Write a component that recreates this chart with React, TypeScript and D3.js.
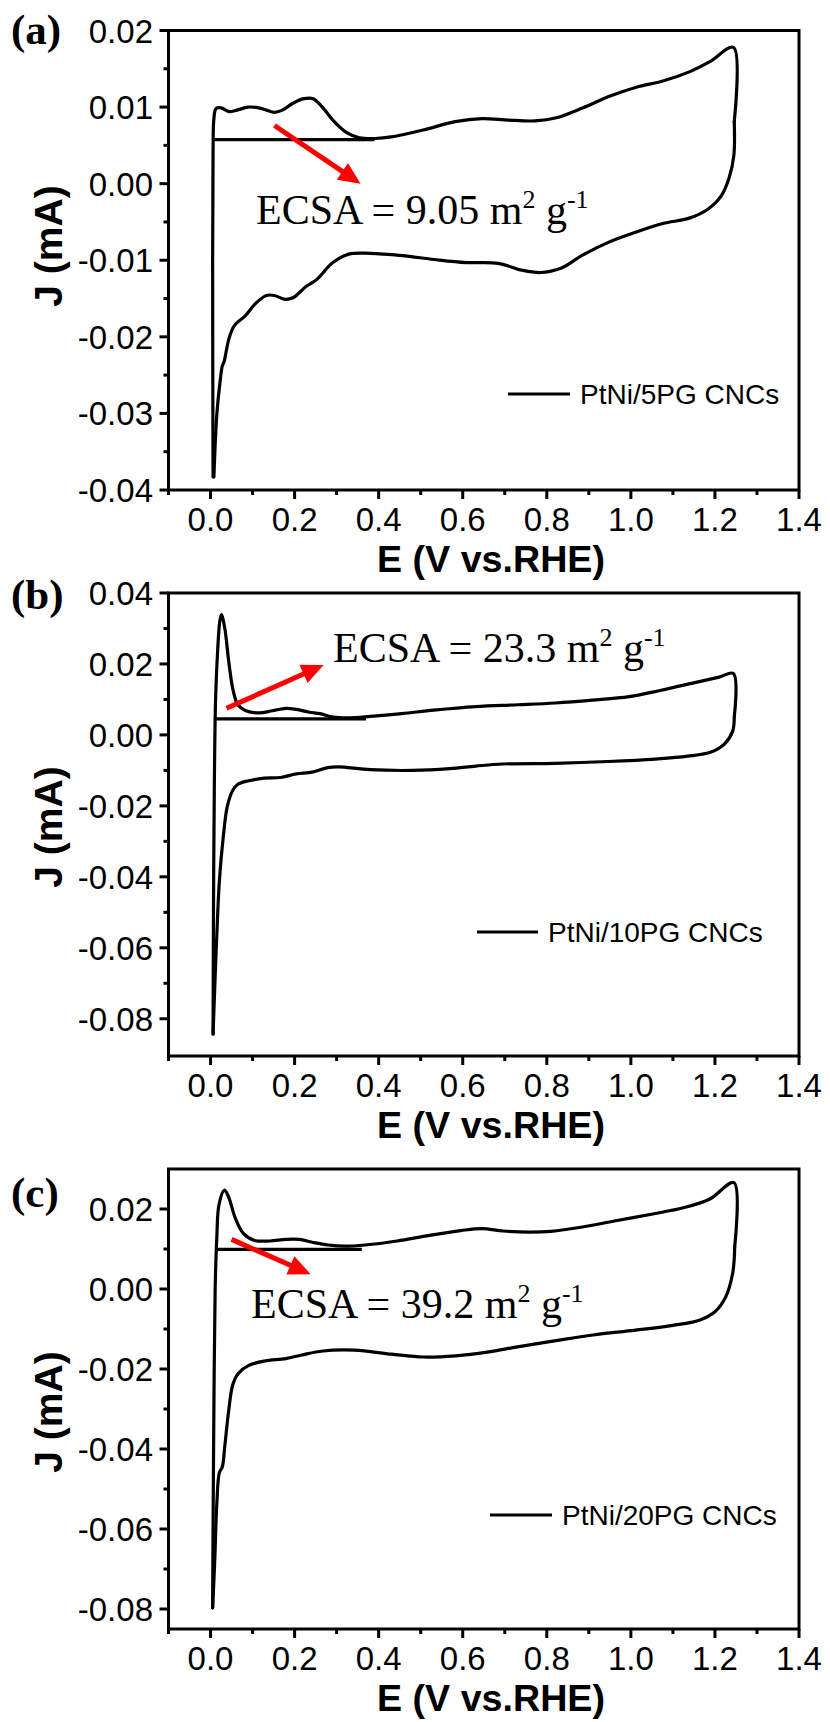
import React from 'react';
import * as d3 from 'd3';

// ---------- shared axis data ----------
const X_TICKS = [0.0, 0.2, 0.4, 0.6, 0.8, 1.0, 1.2, 1.4];
const X_TICK_LABELS = ['0.0', '0.2', '0.4', '0.6', '0.8', '1.0', '1.2', '1.4'];
const X_MINOR = [-0.1, 0.1, 0.3, 0.5, 0.7, 0.9, 1.1, 1.3];

// ---------- panel (a): PtNi/5PG CNCs ----------
const A_Y_TICKS = [0.02, 0.01, 0.0, -0.01, -0.02, -0.03, -0.04];
const A_Y_LABELS = ['0.02', '0.01', '0.00', '-0.01', '-0.02', '-0.03', '-0.04'];
const A_Y_MINOR = [0.015, 0.005, -0.005, -0.015, -0.025, -0.035];
const A_E = [0.006, 0.005, 0.006, 0.008, 0.013, 0.025, 0.044, 0.063, 0.089, 0.114, 0.133, 0.152, 0.171, 0.196, 0.222, 0.244, 0.266, 0.291, 0.323, 0.354, 0.392, 0.43, 0.506, 0.582, 0.646, 0.709, 0.772, 0.823, 0.886, 0.949, 1.013, 1.076, 1.139, 1.19, 1.244, 1.246, 1.245, 1.234, 1.215, 1.184, 1.139, 1.076, 1.013, 0.949, 0.886, 0.835, 0.785, 0.741, 0.684, 0.608, 0.532, 0.456, 0.38, 0.329, 0.291, 0.253, 0.228, 0.196, 0.177, 0.152, 0.133, 0.108, 0.082, 0.057, 0.044, 0.032, 0.028, 0.023, 0.015, 0.008];
const A_J = [-0.0383, -0.01, 0.004, 0.0085, 0.0098, 0.0099, 0.0094, 0.0096, 0.01, 0.0099, 0.0096, 0.0093, 0.0096, 0.0105, 0.0111, 0.0111, 0.01, 0.0083, 0.0067, 0.006, 0.0059, 0.0061, 0.007, 0.0081, 0.0085, 0.0083, 0.0082, 0.0086, 0.0099, 0.0114, 0.0126, 0.0134, 0.0146, 0.016, 0.0178, 0.0081, 0.0037, 0.0008, -0.0016, -0.0033, -0.0045, -0.0052, -0.0063, -0.0076, -0.0093, -0.011, -0.0116, -0.0113, -0.0104, -0.0103, -0.0099, -0.0094, -0.0091, -0.0092, -0.0103, -0.0125, -0.0134, -0.0149, -0.0151, -0.0146, -0.0146, -0.0156, -0.0173, -0.0185, -0.0202, -0.0233, -0.0238, -0.0257, -0.0301, -0.0383];
const A_BASE_E = [0.005, 0.39];
const A_BASE_J = [0.00575, 0.00575];
const A_ARROW_E = [0.152, 0.357];
const A_ARROW_J = [0.0076, 0.0];

// ---------- panel (b): PtNi/10PG CNCs ----------
const B_Y_TICKS = [0.04, 0.02, 0.0, -0.02, -0.04, -0.06, -0.08];
const B_Y_LABELS = ['0.04', '0.02', '0.00', '-0.02', '-0.04', '-0.06', '-0.08'];
const B_Y_MINOR = [0.03, 0.01, -0.01, -0.03, -0.05, -0.07];
const B_E = [0.006, 0.007, 0.009, 0.012, 0.017, 0.022, 0.026, 0.034, 0.043, 0.053, 0.065, 0.084, 0.116, 0.147, 0.179, 0.204, 0.235, 0.26, 0.292, 0.33, 0.38, 0.455, 0.531, 0.631, 0.732, 0.82, 0.908, 0.996, 1.072, 1.147, 1.21, 1.244, 1.246, 1.242, 1.223, 1.191, 1.135, 1.059, 0.946, 0.82, 0.694, 0.631, 0.569, 0.481, 0.38, 0.304, 0.279, 0.242, 0.204, 0.166, 0.128, 0.091, 0.065, 0.053, 0.04, 0.03, 0.021, 0.015, 0.01, 0.006];
const B_J = [-0.0843, -0.05, -0.015, 0.01, 0.024, 0.032, 0.0339, 0.03, 0.021, 0.013, 0.0085, 0.0068, 0.0062, 0.0068, 0.0075, 0.0072, 0.0064, 0.006, 0.005, 0.0048, 0.0052, 0.006, 0.007, 0.008, 0.0085, 0.009, 0.0098, 0.0108, 0.0126, 0.0146, 0.0163, 0.0173, 0.005, 0.001, -0.0025, -0.0048, -0.006, -0.0068, -0.0075, -0.008, -0.0082, -0.0088, -0.0095, -0.01, -0.0098, -0.009, -0.0092, -0.0105, -0.011, -0.012, -0.0122, -0.0129, -0.0139, -0.0156, -0.0201, -0.0291, -0.0412, -0.0562, -0.0713, -0.0843];
const B_BASE_E = [0.008, 0.37];
const B_BASE_J = [0.0045, 0.0045];
const B_ARROW_E = [0.038, 0.269];
const B_ARROW_J = [0.0075, 0.0197];

// ---------- panel (c): PtNi/20PG CNCs ----------
const C_Y_TICKS = [0.02, 0.0, -0.02, -0.04, -0.06, -0.08];
const C_Y_LABELS = ['0.02', '0.00', '-0.02', '-0.04', '-0.06', '-0.08'];
const C_Y_MINOR = [0.01, -0.01, -0.03, -0.05, -0.07];
const C_E = [0.005, 0.006, 0.008, 0.011, 0.015, 0.02, 0.033, 0.043, 0.059, 0.078, 0.103, 0.141, 0.179, 0.211, 0.242, 0.28, 0.318, 0.368, 0.444, 0.52, 0.595, 0.646, 0.696, 0.759, 0.81, 0.885, 0.961, 1.049, 1.125, 1.188, 1.245, 1.247, 1.246, 1.242, 1.226, 1.2, 1.163, 1.1, 1.011, 0.91, 0.822, 0.734, 0.658, 0.583, 0.507, 0.431, 0.343, 0.267, 0.217, 0.179, 0.129, 0.091, 0.066, 0.053, 0.043, 0.034, 0.028, 0.021, 0.015, 0.01, 0.005];
const C_J = [-0.0797, -0.06, -0.03, 0.0, 0.013, 0.021, 0.0247, 0.023, 0.0177, 0.0139, 0.0122, 0.012, 0.0124, 0.0124, 0.0117, 0.011, 0.0107, 0.011, 0.012, 0.0134, 0.0146, 0.0151, 0.0145, 0.0142, 0.0144, 0.0155, 0.017, 0.0187, 0.0203, 0.0225, 0.0266, 0.0105, 0.0077, 0.0038, -0.0019, -0.0057, -0.0078, -0.0091, -0.0103, -0.0115, -0.0129, -0.0144, -0.0158, -0.0167, -0.017, -0.0163, -0.0153, -0.0155, -0.0165, -0.0174, -0.018, -0.0191, -0.0211, -0.0239, -0.0306, -0.0392, -0.0445, -0.0459, -0.0536, -0.0679, -0.0797];
const C_BASE_E = [0.013, 0.36];
const C_BASE_J = [0.0099, 0.0099];
const C_ARROW_E = [0.05, 0.238];
const C_ARROW_J = [0.0124, 0.0037];

// ---------- layout ----------
const FRAME_LEFT = 168.5;
const FRAME_RIGHT = 799;

type Panel = {
  tag: string;
  tagY: number;
  top: number;
  bottom: number;
  yDomain: [number, number];
  yTicks: number[];
  yLabels: string[];
  yMinor: number[];
  E: number[];
  J: number[];
  baseE: number[];
  baseJ: number[];
  arrowE: number[];
  arrowJ: number[];
  ecsa: string;
  ecsaX: number;
  ecsaY: number;
  jTitleY: number;
  legend: string;
  legendX: number;
  legendY: number;
  legendLen: number;
};

const PANELS: Panel[] = [
  {
    tag: '(a)', tagY: 44, top: 30.5, bottom: 490, yDomain: [-0.04, 0.02],
    yTicks: A_Y_TICKS, yLabels: A_Y_LABELS, yMinor: A_Y_MINOR,
    E: A_E, J: A_J, baseE: A_BASE_E, baseJ: A_BASE_J, arrowE: A_ARROW_E, arrowJ: A_ARROW_J,
    ecsa: '9.05', ecsaX: 256, ecsaY: 224, jTitleY: 246,
    legend: 'PtNi/5PG CNCs', legendX: 508, legendY: 394, legendLen: 62,
  },
  {
    tag: '(b)', tagY: 609, top: 593, bottom: 1056, yDomain: [-0.0905, 0.04],
    yTicks: B_Y_TICKS, yLabels: B_Y_LABELS, yMinor: B_Y_MINOR,
    E: B_E, J: B_J, baseE: B_BASE_E, baseJ: B_BASE_J, arrowE: B_ARROW_E, arrowJ: B_ARROW_J,
    ecsa: '23.3', ecsaX: 333, ecsaY: 662, jTitleY: 827,
    legend: 'PtNi/10PG CNCs', legendX: 477, legendY: 932, legendLen: 61,
  },
  {
    tag: '(c)', tagY: 1207, top: 1169, bottom: 1629, yDomain: [-0.085, 0.03],
    yTicks: C_Y_TICKS, yLabels: C_Y_LABELS, yMinor: C_Y_MINOR,
    E: C_E, J: C_J, baseE: C_BASE_E, baseJ: C_BASE_J, arrowE: C_ARROW_E, arrowJ: C_ARROW_J,
    ecsa: '39.2', ecsaX: 251, ecsaY: 1318, jTitleY: 1412,
    legend: 'PtNi/20PG CNCs', legendX: 490, legendY: 1515, legendLen: 62,
  },
];

const SANS = "'Liberation Sans', Arial, sans-serif";
const SERIF = "'Liberation Serif', 'Times New Roman', serif";

function PanelView({ p }: { p: Panel }) {
  const x = d3.scaleLinear().domain([-0.1, 1.4]).range([FRAME_LEFT, FRAME_RIGHT]);
  const y = d3.scaleLinear().domain(p.yDomain).range([p.bottom, p.top]);
  const pts: [number, number][] = p.E.map((e, i) => [e, p.J[i]]);
  // split loop at the anodic vertex (max potential) so the corners stay sharp
  const peak = d3.maxIndex(p.E);
  const seg1 = pts.slice(0, peak + 1);
  const seg2 = pts.slice(peak);
  const line = d3
    .line<[number, number]>()
    .x((d) => x(d[0]))
    .y((d) => y(d[1]))
    .curve(d3.curveCatmullRom.alpha(0.5));
  const bx0 = x(p.baseE[0]);
  const bx1 = x(p.baseE[1]);
  const by = y(p.baseJ[0]);
  const ax0 = x(p.arrowE[0]);
  const ay0 = y(p.arrowJ[0]);
  const ax1 = x(p.arrowE[1]);
  const ay1 = y(p.arrowJ[1]);
  const ang = Math.atan2(ay1 - ay0, ax1 - ax0);
  const hl = 22;
  const hw = 10;
  const h1x = ax1 - hl * Math.cos(ang) + hw * Math.sin(ang);
  const h1y = ay1 - hl * Math.sin(ang) - hw * Math.cos(ang);
  const h2x = ax1 - hl * Math.cos(ang) - hw * Math.sin(ang);
  const h2y = ay1 - hl * Math.sin(ang) + hw * Math.cos(ang);

  return (
    <g>
      {/* frame */}
      <rect x={FRAME_LEFT} y={p.top} width={FRAME_RIGHT - FRAME_LEFT} height={p.bottom - p.top}
        fill="none" stroke="#000" strokeWidth={3} />
      {/* x ticks */}
      {X_TICKS.map((t, i) => (
        <g key={'xt' + i}>
          <line x1={x(t)} x2={x(t)} y1={p.bottom} y2={p.bottom + 9} stroke="#000" strokeWidth={3} />
          <text x={x(t)} y={p.bottom + 41} textAnchor="middle" fontFamily={SANS} fontSize={33}>
            {X_TICK_LABELS[i]}
          </text>
        </g>
      ))}
      {X_MINOR.map((t, i) => (
        <line key={'xm' + i} x1={x(t)} x2={x(t)} y1={p.bottom} y2={p.bottom + 5} stroke="#000" strokeWidth={3} />
      ))}
      {/* y ticks */}
      {p.yTicks.map((t, i) => (
        <g key={'yt' + i}>
          <line x1={FRAME_LEFT - 9} x2={FRAME_LEFT} y1={y(t)} y2={y(t)} stroke="#000" strokeWidth={3} />
          <text x={153} y={y(t) + 12} textAnchor="end" fontFamily={SANS} fontSize={33}>
            {p.yLabels[i]}
          </text>
        </g>
      ))}
      {p.yMinor.map((t, i) => (
        <line key={'ym' + i} x1={FRAME_LEFT - 5} x2={FRAME_LEFT} y1={y(t)} y2={y(t)} stroke="#000" strokeWidth={3} />
      ))}
      {/* axis titles */}
      <text x={491} y={p.bottom + 82} textAnchor="middle" fontFamily={SANS} fontWeight="bold" fontSize={36}
        textLength={228} lengthAdjust="spacingAndGlyphs">
        E (V vs.RHE)
      </text>
      <text transform={`translate(62,${p.jTitleY}) rotate(-90)`} textAnchor="middle" fontFamily={SANS}
        fontWeight="bold" fontSize={39}>
        J (mA)
      </text>
      {/* panel tag */}
      <text x={11} y={p.tagY} fontFamily={SERIF} fontWeight="bold" fontSize={43}>
        {p.tag}
      </text>
      {/* curve */}
      <path d={line(seg1) || ''} fill="none" stroke="#000" strokeWidth={3.2} strokeLinejoin="round" strokeLinecap="round" />
      <path d={line(seg2) || ''} fill="none" stroke="#000" strokeWidth={3.2} strokeLinejoin="round" strokeLinecap="round" />
      <line x1={bx0} x2={bx1} y1={by} y2={by} stroke="#000" strokeWidth={3.2} />
      {/* arrow */}
      <line x1={ax0} y1={ay0} x2={ax1 - 14 * Math.cos(ang)} y2={ay1 - 14 * Math.sin(ang)} stroke="#ff0000" strokeWidth={5} />
      <polygon points={`${ax1},${ay1} ${h1x},${h1y} ${h2x},${h2y}`} fill="#ff0000" />
      {/* ECSA label */}
      <text x={p.ecsaX} y={p.ecsaY} fontFamily={SERIF} fontSize={42}>
        {'ECSA = ' + p.ecsa + ' m'}
        <tspan fontSize={26} dy={-16}>2</tspan>
        <tspan dy={16}>{' g'}</tspan>
        <tspan fontSize={26} dy={-16}>-1</tspan>
      </text>
      {/* legend */}
      <line x1={p.legendX} x2={p.legendX + p.legendLen} y1={p.legendY} y2={p.legendY} stroke="#000" strokeWidth={3.2} />
      <text x={p.legendX + p.legendLen + 10} y={p.legendY + 10} fontFamily={SANS} fontSize={28}>
        {p.legend}
      </text>
    </g>
  );
}

export default function App() {
  return (
    <svg width={830} height={1722} viewBox="0 0 830 1722"
      style={{ position: 'absolute', left: 0, top: 0, display: 'block', background: '#fff' }}>
      <rect x={0} y={0} width={830} height={1722} fill="#fff" />
      {PANELS.map((p) => (
        <PanelView key={p.tag} p={p} />
      ))}
    </svg>
  );
}
